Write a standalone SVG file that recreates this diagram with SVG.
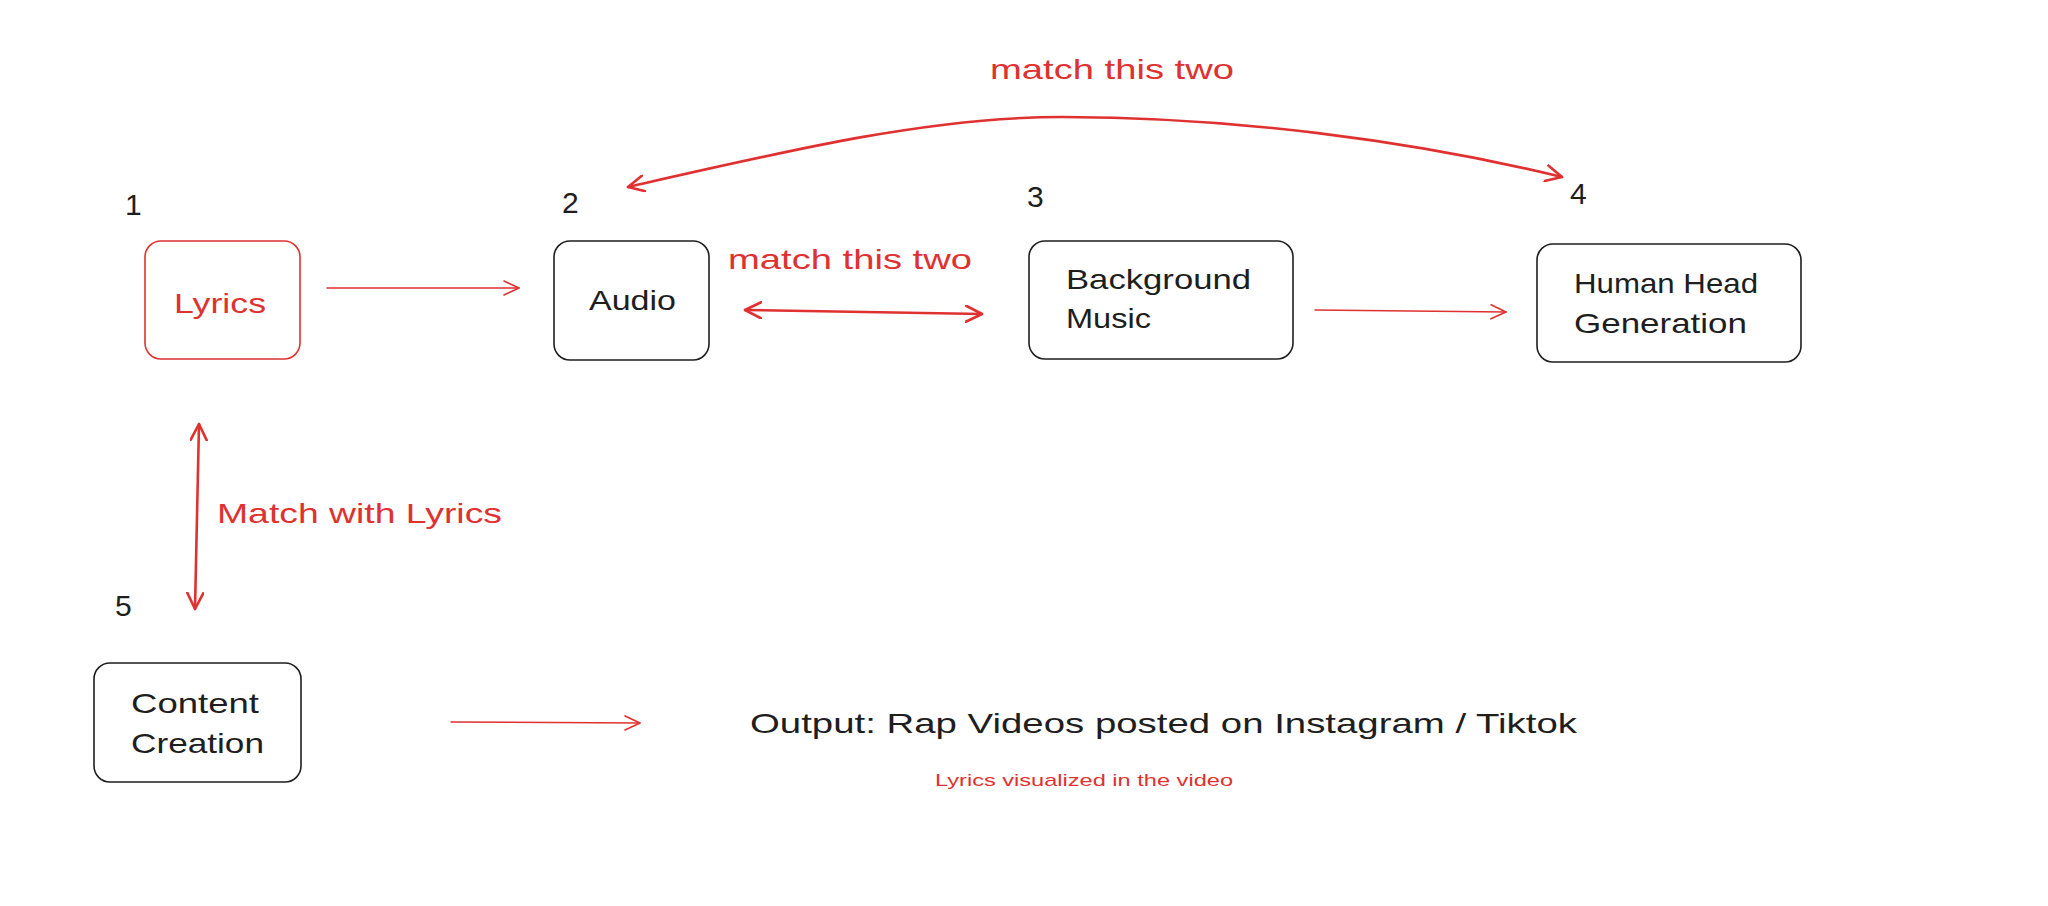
<svg xmlns="http://www.w3.org/2000/svg" width="2048" height="906" viewBox="0 0 2048 906">
<style>
.box{fill:#fff;stroke:#1e1e1e;stroke-width:1.6}
.rbox{fill:#fff;stroke:#e03131;stroke-width:1.6}
.t{font-family:"Liberation Sans",Arial,sans-serif;font-size:28px;fill:#1e1e1e}
.r{fill:#e03131}
.num{font-family:"Liberation Sans",Arial,sans-serif;font-size:30px;fill:#1e1e1e}
.thin{fill:none;stroke:#e03131;stroke-width:1.5;stroke-linecap:round}
.thick{fill:none;stroke:#e03131;stroke-width:2.6;stroke-linecap:round}
</style>
<defs>
<marker id="ah" markerUnits="userSpaceOnUse" markerWidth="20" markerHeight="16" refX="16" refY="8" orient="auto-start-reverse" viewBox="0 0 20 16">
<path d="M1,1 L16,8 L1,15" fill="none" stroke="#e03131" stroke-width="1.6" stroke-linecap="round" stroke-linejoin="round"/>
</marker>
<marker id="ahb" markerUnits="userSpaceOnUse" markerWidth="22" markerHeight="18" refX="17" refY="9" orient="auto-start-reverse" viewBox="0 0 22 18">
<path d="M1,1 L17,9 L1,17" fill="none" stroke="#e03131" stroke-width="2.6" stroke-linecap="round" stroke-linejoin="round"/>
</marker>
</defs>
<rect width="2048" height="906" fill="#fff"/>

<g id="connectors">
<path class="thin" d="M327,288 L519,288" marker-end="url(#ah)"/>
<path class="thin" d="M1315,310 L1506,312" marker-end="url(#ah)"/>
<path class="thin" d="M451,722 L640,723" marker-end="url(#ah)"/>
<path class="thick" d="M745,310 L982,314" marker-start="url(#ahb)" marker-end="url(#ahb)"/>
<path class="thick" d="M199,424 L195,609" marker-start="url(#ahb)" marker-end="url(#ahb)"/>
<path class="thick" d="M628,187 C790,150 930,117 1062,117 C1230,117 1410,140 1562,177" marker-start="url(#ahb)" marker-end="url(#ahb)"/>
<text class="t r" x="990" y="79" textLength="244" lengthAdjust="spacingAndGlyphs">match this two</text>
<text class="t r" x="728" y="269" textLength="244" lengthAdjust="spacingAndGlyphs">match this two</text>
<text class="t r" x="217" y="523" textLength="285" lengthAdjust="spacingAndGlyphs">Match with Lyrics</text>
</g>

<g id="node-lyrics">
<text class="num" x="125" y="215">1</text>
<rect class="rbox" x="145" y="241" width="155" height="118" rx="16"/>
<text class="t r" x="174" y="313" textLength="92" lengthAdjust="spacingAndGlyphs">Lyrics</text>
</g>

<g id="node-audio">
<text class="num" x="562" y="213">2</text>
<rect class="box" x="554" y="241" width="155" height="119" rx="16"/>
<text class="t" x="589" y="310" textLength="87" lengthAdjust="spacingAndGlyphs">Audio</text>
</g>

<g id="node-background">
<text class="num" x="1027" y="207">3</text>
<rect class="box" x="1029" y="241" width="264" height="118" rx="16"/>
<text class="t" x="1066" y="289" textLength="185" lengthAdjust="spacingAndGlyphs">Background</text>
<text class="t" x="1066" y="328" textLength="85" lengthAdjust="spacingAndGlyphs">Music</text>
</g>

<g id="node-head">
<text class="num" x="1570" y="204">4</text>
<rect class="box" x="1537" y="244" width="264" height="118" rx="16"/>
<text class="t" x="1574" y="293" textLength="184" lengthAdjust="spacingAndGlyphs">Human Head</text>
<text class="t" x="1574" y="333" textLength="173" lengthAdjust="spacingAndGlyphs">Generation</text>
</g>

<g id="node-content">
<text class="num" x="115" y="616">5</text>
<rect class="box" x="94" y="663" width="207" height="119" rx="16"/>
<text class="t" x="131" y="713" textLength="128" lengthAdjust="spacingAndGlyphs">Content</text>
<text class="t" x="131" y="753" textLength="133" lengthAdjust="spacingAndGlyphs">Creation</text>
</g>

<g id="node-output">
<text class="t" x="750" y="733" textLength="827" lengthAdjust="spacingAndGlyphs">Output: Rap Videos posted on Instagram / Tiktok</text>
<text class="t r" x="935" y="786" style="font-size:17px" textLength="298" lengthAdjust="spacingAndGlyphs">Lyrics visualized in the video</text>
</g>
</svg>
